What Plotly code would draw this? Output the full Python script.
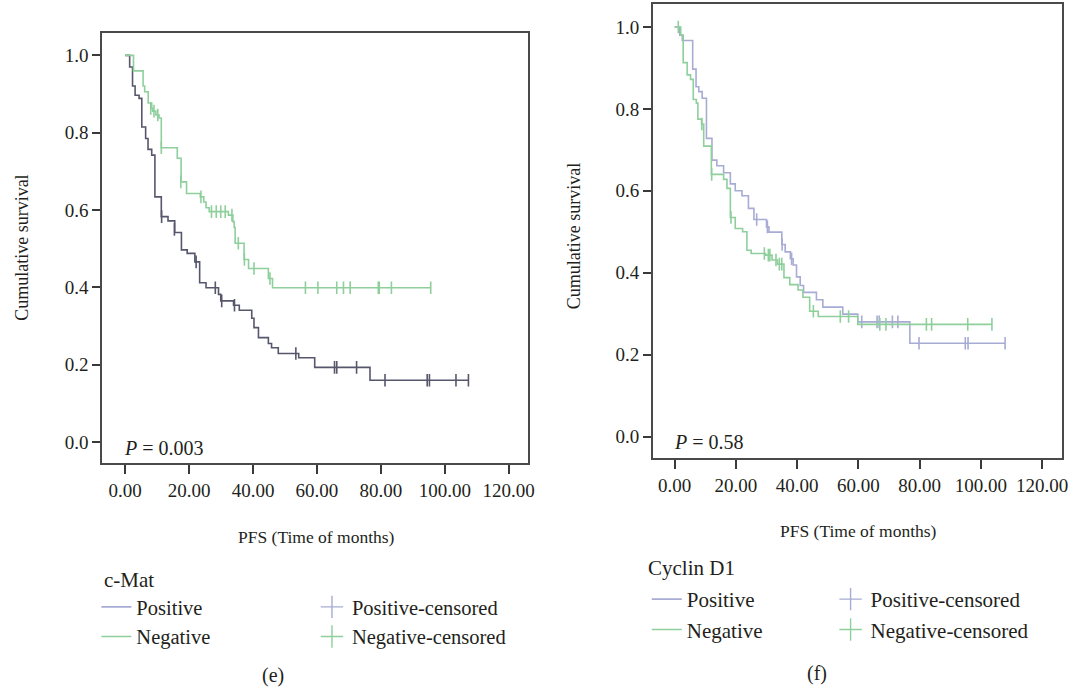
import plotly.graph_objects as go

# ---------------- data ----------------
# Panel (e): c-Mat
cmat_pos_t = [0, 1.4, 2.3, 3.1, 4.35, 5.2, 6.4, 7.15, 8.3, 9.3, 11.3, 13.4, 15.5, 17.6, 19.4, 21.8,
              23.3, 25.3, 29.2, 29.9, 33.9, 35.7, 39.6, 40.3, 41.7, 44.8, 45.8, 47.9, 54.3, 59.3, 76.6, 107.4]
cmat_pos_s = [1.0, 0.970, 0.921, 0.897, 0.889, 0.815, 0.785, 0.757, 0.742, 0.634, 0.583, 0.572, 0.542, 0.497,
              0.488, 0.466, 0.412, 0.399, 0.382, 0.365, 0.354, 0.341, 0.320, 0.296, 0.270, 0.255, 0.244, 0.229,
              0.218, 0.193, 0.160, 0.160]
cmat_pos_cens_t = [11.4, 15.4, 22.2, 28.2, 30.2, 34.2, 53.4, 65.5, 66.2, 72.4, 81.3, 94.5, 95.2, 103.5, 107.4]
cmat_pos_cens_s = [0.583, 0.550, 0.466, 0.399, 0.365, 0.354, 0.229, 0.193, 0.193, 0.193, 0.160, 0.160, 0.160,
                   0.160, 0.160]

cmat_neg_t = [0, 2.6, 5.6, 6.1, 7.2, 8.3, 8.6, 9.6, 10.6, 11.3, 16.3, 17.5, 19.2, 23.5, 24.6, 25.3, 26.3,
              32.3, 33.7, 34.1, 34.4, 37.2, 38.6, 44.8, 46.1, 95.6]
cmat_neg_s = [1.0, 0.960, 0.921, 0.906, 0.877, 0.863, 0.856, 0.846, 0.838, 0.761, 0.734, 0.673, 0.643, 0.634,
              0.621, 0.606, 0.596, 0.587, 0.570, 0.555, 0.514, 0.472, 0.449, 0.423, 0.399, 0.399]
cmat_neg_cens_t = [8.0, 9.0, 10.2, 11.3, 17.4, 23.7, 27.0, 28.5, 29.9, 31.3, 33.4, 35.4, 37.3, 40.3, 45.3,
                   56.4, 60.3, 66.2, 68.3, 70.4, 79.2, 79.5, 83.3, 95.6]
cmat_neg_cens_s = [0.863, 0.856, 0.846, 0.761, 0.673, 0.634, 0.596, 0.596, 0.596, 0.596, 0.587, 0.514, 0.472,
                   0.449, 0.423, 0.399, 0.399, 0.399, 0.399, 0.399, 0.399, 0.399, 0.399, 0.399]

# Panel (f): Cyclin D1
cyc_pos_t = [0, 1.7, 2.5, 5.9, 7.0, 7.9, 9.0, 10.4, 12.2, 13.8, 16.0, 18.2, 19.8, 22.0, 24.1, 25.9, 30.0,
             30.8, 35.0, 36.1, 37.8, 38.7, 39.8, 41.0, 42.1, 46.3, 48.4, 54.9, 59.8, 76.8, 107.9]
cyc_pos_s = [1.0, 0.980, 0.967, 0.897, 0.854, 0.842, 0.826, 0.728, 0.675, 0.661, 0.644, 0.617, 0.600, 0.588,
             0.557, 0.530, 0.512, 0.499, 0.469, 0.451, 0.434, 0.419, 0.390, 0.369, 0.352, 0.334, 0.316, 0.299,
             0.280, 0.228, 0.228]
cyc_pos_cens_t = [26.8, 30.3, 35.1, 38.2, 61.1, 66.1, 66.8, 71.1, 72.9, 79.8, 94.9, 95.8, 107.9]
cyc_pos_cens_s = [0.530, 0.512, 0.469, 0.434, 0.280, 0.280, 0.280, 0.280, 0.280, 0.228, 0.228, 0.228, 0.228]

cyc_neg_t = [0, 2.0, 2.8, 4.1, 5.2, 6.1, 7.1, 7.6, 8.8, 9.5, 12.0, 16.0, 17.1, 18.2, 19.8, 22.2, 23.6, 25.0,
             29.7, 31.8, 33.6, 35.7, 37.6, 40.3, 41.9, 44.1, 46.9, 59.8, 103.6]
cyc_neg_s = [1.0, 0.980, 0.913, 0.883, 0.872, 0.823, 0.814, 0.775, 0.763, 0.709, 0.640, 0.628, 0.606, 0.535,
             0.508, 0.500, 0.455, 0.447, 0.443, 0.431, 0.421, 0.388, 0.371, 0.358, 0.340, 0.306, 0.293, 0.274,
             0.274]
cyc_neg_cens_t = [1.2, 8.9, 12.1, 18.4, 29.3, 30.6, 31.1, 33.1, 34.2, 35.0, 45.3, 54.1, 56.8, 67.0, 69.0,
                  82.2, 83.9, 95.7, 103.6]
cyc_neg_cens_s = [1.0, 0.763, 0.640, 0.535, 0.447, 0.443, 0.443, 0.431, 0.421, 0.421, 0.306, 0.293, 0.293,
                  0.274, 0.274, 0.274, 0.274, 0.274, 0.274]

x_ticks = [0, 20, 40, 60, 80, 100, 120]
y_ticks = [0.0, 0.2, 0.4, 0.6, 0.8, 1.0]

# ---------------- styling ----------------
FONT = "Liberation Serif"
TXT = "#231f20"
DARK = "#56566c"
LAV = "#a8abd4"
GREEN = "#8ecf9c"
W, H = 1080, 688


def px(x):
    return x / W


def py(y):
    return 1 - y / H


fig = go.Figure()


def add_panel(t, s, ct, cs, color, xa, ya):
    fig.add_trace(go.Scatter(x=t, y=s, mode="lines", line=dict(shape="hv", color=color, width=1.6),
                             xaxis=xa, yaxis=ya, showlegend=False, hoverinfo="skip"))
    fig.add_trace(go.Scatter(x=ct, y=cs, mode="markers",
                             marker=dict(symbol="line-ns-open", size=9, color=color,
                                         line=dict(color=color, width=1.6)),
                             xaxis=xa, yaxis=ya, showlegend=False, hoverinfo="skip"))


add_panel(cmat_pos_t, cmat_pos_s, cmat_pos_cens_t, cmat_pos_cens_s, DARK, "x", "y")
add_panel(cmat_neg_t, cmat_neg_s, cmat_neg_cens_t, cmat_neg_cens_s, GREEN, "x", "y")
add_panel(cyc_pos_t, cyc_pos_s, cyc_pos_cens_t, cyc_pos_cens_s, LAV, "x2", "y2")
add_panel(cyc_neg_t, cyc_neg_s, cyc_neg_cens_t, cyc_neg_cens_s, GREEN, "x2", "y2")

# legend entries
for lg_line, lg_cross in (("legend", "legend2"), ("legend3", "legend4")):
    for name, col in (("Positive", LAV), ("Negative", GREEN)):
        fig.add_trace(go.Scatter(x=[None], y=[None], mode="lines", name=name,
                                 line=dict(color=col, width=1.6), legend=lg_line))
        fig.add_trace(go.Scatter(x=[None], y=[None], mode="markers", name=name + "-censored",
                                 marker=dict(symbol="cross-thin-open", size=18, color=col,
                                             line=dict(color=col, width=1.4)),
                                 legend=lg_cross))

axis_common = dict(showline=True, linecolor="#4a4a4a", linewidth=2, mirror=True, showgrid=False,
                   zeroline=False, ticks="outside", tickcolor="#3a3a3a", tickwidth=1.6,
                   tickfont=dict(family=FONT, size=19, color=TXT))


def leg(x, y, size):
    return dict(x=px(x), y=py(y), font=dict(family=FONT, size=size, color=TXT), bgcolor="rgba(0,0,0,0)",
                xanchor="left", yanchor="top", traceorder="normal", itemwidth=30)


fig.update_layout(
    width=W, height=H, margin=dict(l=0, r=0, t=0, b=0),
    paper_bgcolor="white", plot_bgcolor="white",
    xaxis=dict(domain=[px(103), px(531)], range=[-7.15, 125.9], tickvals=x_ticks, tickformat=".2f",
               ticklen=9, anchor="y", **axis_common),
    yaxis=dict(domain=[py(463.3), py(33)], range=[-0.055, 1.058], tickvals=y_ticks, tickformat=".1f",
               ticklen=8, anchor="x", **axis_common),
    xaxis2=dict(domain=[px(657.3), px(1069)], range=[-7.04, 126.5], tickvals=x_ticks, tickformat=".2f",
                ticklen=9, anchor="y2", **axis_common),
    yaxis2=dict(domain=[py(458.3), py(4)], range=[-0.053, 1.056], tickvals=y_ticks, tickformat=".1f",
                ticklen=8, anchor="x2", **axis_common),
    legend=leg(97, 587, 20.5),
    legend2=leg(314, 587, 20.5),
    legend3=leg(651, 579, 21),
    legend4=leg(836, 579, 21),
)

ann_font = dict(family=FONT, size=18, color=TXT)
annotations = [
    dict(text="Cumulative survival", x=px(22), y=py(248), textangle=-90),
    dict(text="Cumulative survival", x=px(578), y=py(236), textangle=-90),
    dict(text="PFS (Time of months)", x=px(319), y=py(537), size=17.5),
    dict(text="PFS (Time of months)", x=px(864), y=py(531), size=17.5),
    dict(text="<i>P</i> = 0.003", x=px(123), y=py(448), xanchor="left", size=20),
    dict(text="<i>P</i> = 0.58", x=px(676), y=py(442), xanchor="left", size=20),
    dict(text="c-Mat", x=px(103), y=py(580), xanchor="left", size=21),
    dict(text="Cyclin D1", x=px(650), y=py(568), xanchor="left", size=21),
    dict(text="(e)", x=px(275), y=py(675), size=20),
    dict(text="(f)", x=px(822), y=py(673), size=20),
]
for a in annotations:
    a.setdefault("xanchor", "center")
    f = dict(ann_font)
    if "size" in a:
        f["size"] = a.pop("size")
    fig.add_annotation(xref="paper", yref="paper", showarrow=False, yanchor="middle",
                       font=f, **a)

fig.write_html("out.html", config={"displayModeBar": False},
               post_script="document.body.style.margin='0px';")
